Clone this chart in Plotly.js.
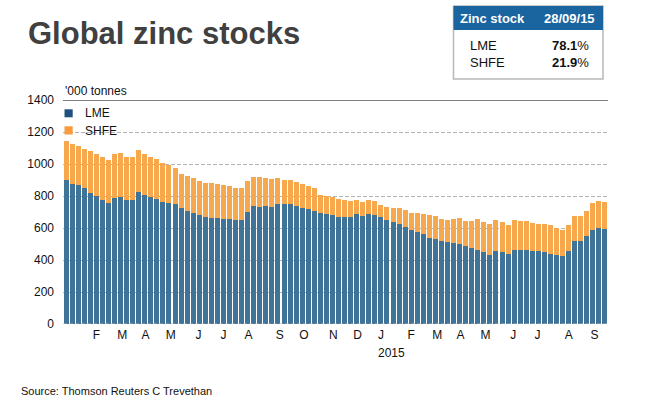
<!DOCTYPE html>
<html>
<head>
<meta charset="utf-8">
<script src="https://cdn.plot.ly/plotly-3.0.1.min.js"></script>
<style>
  html, body { margin: 0; padding: 0; background: #ffffff; }
  #chart { width: 648px; height: 408px; }
</style>
</head>
<body>
<div id="chart"></div>
<script>
// Weekly zinc stocks, '000 tonnes (Friday readings, Jan 2014 - Sep 2015)
const firstWeek = '2014-01-10';

const lme = [
  900, 875, 869, 850, 819, 800, 775, 756, 787, 794,
  775, 775, 825, 806, 794, 781, 762, 756, 750, 725,
  706, 694, 681, 669, 662, 662, 656, 656, 650, 650,
  700, 737, 731, 737, 731, 750, 750, 750, 737, 725,
  719, 706, 694, 687, 681, 669, 669, 669, 687, 675,
  687, 681, 669, 650, 637, 625, 606, 587, 575, 562,
  537, 531, 519, 512, 506, 500, 487, 475, 462, 450,
  431, 456, 450, 437, 462, 462, 462, 456, 456, 450,
  437, 431, 425, 456, 519, 519, 550, 587, 600, 595
];

const shfe = [
  244, 250, 243, 244, 262, 262, 269, 269, 275, 275,
  269, 269, 262, 256, 250, 250, 244, 238, 225, 212,
  219, 218, 213, 212, 219, 213, 213, 206, 200, 200,
  194, 182, 188, 175, 175, 162, 150, 150, 150, 150,
  143, 144, 112, 113, 113, 112, 106, 100,  88,  87,
   88,  88,  75,  81,  88, 100, 106, 107, 119, 125,
  144, 144, 137, 138, 150, 162, 157, 169, 194, 187,
  194, 194, 187, 182, 188, 182, 182, 175, 169, 175,
  182, 169, 162, 163, 156, 156, 156, 169, 169, 167
];

const seriesNames = ['LME', 'SHFE'];
const barColors = ['#3f7397', '#f8a84c'];
const keyColors = ['#1f5080', '#f79b3c'];

// Month initials along the time axis
const tickDates = [
  '2014-02-14', '2014-03-16', '2014-04-12', '2014-05-11', '2014-06-12',
  '2014-07-11', '2014-08-09', '2014-09-14', '2014-10-12', '2014-11-15',
  '2014-12-13', '2015-01-09', '2015-02-13', '2015-03-15', '2015-04-11',
  '2015-05-10', '2015-06-11', '2015-07-09', '2015-08-14', '2015-09-13'
];
const tickLetters = [
  'F', 'M', 'A', 'M', 'J', 'J', 'A', 'S', 'O', 'N',
  'D', 'J', 'F', 'M', 'A', 'M', 'J', 'J', 'A', 'S'
];
const yearLabel = '2015';
const yearDate = '2015-01-21';

const yTicks = [0, 200, 400, 600, 800, 1000, 1200, 1400];

const tableTitle = 'Zinc stock';
const tableDate = '28/09/15';

// Week dates for the x axis
const weeks = lme.map((_, i) => {
  const p = firstWeek.split('-').map(Number);
  return new Date(Date.UTC(p[0], p[1] - 1, p[2] + 7 * i)).toISOString().slice(0, 10);
});

// Share of the latest total held in each exchange
const lastTotal = lme[lme.length - 1] + shfe[shfe.length - 1];
const shares = [lme[lme.length - 1], shfe[shfe.length - 1]].map(v => (v / lastTotal * 100).toFixed(1));

const W = 648, H = 408;
const M = { l: 63, r: 40, t: 100, b: 84 };
const PW = W - M.l - M.r, PH = H - M.t - M.b;
const px = x => (x - M.l) / PW;          // page pixel -> paper x
const py = y => (H - M.b - y) / PH;      // page pixel -> paper y

const FONT = 'Liberation Sans, Arial, Helvetica, sans-serif';
const NARROW = 'Liberation Sans Narrow, Arial Narrow, Liberation Sans, Arial, sans-serif';

const traces = [
  { type: 'bar', x: weeks, y: lme, name: seriesNames[0],
    marker: { color: barColors[0], line: { width: 0 } }, hoverinfo: 'x+y+name' },
  { type: 'bar', x: weeks, y: shfe, name: seriesNames[1],
    marker: { color: barColors[1], line: { width: 0 } }, hoverinfo: 'x+y+name' }
];

const shapes = [
  // top rule
  { type: 'line', xref: 'paper', yref: 'y', x0: 0, x1: 1, y0: 1400, y1: 1400,
    line: { color: '#000000', width: 1 } },
  // dashed baseline across the bar feet
  { type: 'line', xref: 'paper', yref: 'y', x0: 0, x1: 1, y0: 0, y1: 0,
    line: { color: '#b3b3b3', width: 1, dash: '4px,2px' } },
  // key swatches
  { type: 'rect', xref: 'paper', yref: 'paper', x0: px(64.5), x1: px(72.7), y0: py(117.3), y1: py(109.3),
    fillcolor: keyColors[0], line: { width: 0 } },
  { type: 'rect', xref: 'paper', yref: 'paper', x0: px(64.5), x1: px(72.7), y0: py(134.5), y1: py(126.3),
    fillcolor: keyColors[1], line: { width: 0 } },
  // summary box
  { type: 'rect', xref: 'paper', yref: 'paper', x0: px(453.5), x1: px(603), y0: py(79), y1: py(6),
    fillcolor: '#ffffff', line: { color: '#b8b8b8', width: 1.5 } },
  { type: 'rect', xref: 'paper', yref: 'paper', x0: px(453.5), x1: px(603), y0: py(30), y1: py(6),
    fillcolor: '#1a64a0', line: { width: 0 } }
];

const ann = (text, x, y, xanchor, font, extra) => Object.assign({
  text, xref: 'paper', yref: 'paper', x: px(x), y: py(y),
  xanchor, yanchor: 'middle', showarrow: false, font
}, extra || {});

const annotations = [
  ann("'000 tonnes", 62.5, 90.5, 'left', { family: FONT, size: 12, color: '#111111' }),
  ann(seriesNames[0], 82.5, 113.5, 'left', { family: FONT, size: 12, color: '#111111' }),
  ann(seriesNames[1], 82.5, 130.5, 'left', { family: FONT, size: 12, color: '#111111' }),
  { text: yearLabel, xref: 'x', yref: 'paper', x: yearDate, y: py(352.5),
    xanchor: 'center', yanchor: 'middle', showarrow: false,
    font: { family: FONT, size: 12, color: '#111111' } },
  ann('Source: Thomson Reuters C Trevethan', 19, 391, 'left', { family: NARROW, size: 11, color: '#111111' }),
  ann(tableTitle, 457.5, 18.5, 'left', { family: FONT, size: 13, color: '#ffffff', weight: 'bold' }),
  ann(tableDate, 596.5, 18.5, 'right', { family: FONT, size: 13, color: '#ffffff', weight: 'bold' }),
  ann(seriesNames[0], 467.5, 45, 'left', { family: FONT, size: 13, color: '#111111' }),
  ann(seriesNames[1], 467.5, 62.5, 'left', { family: FONT, size: 13, color: '#111111' }),
  ann('<b>' + shares[0] + '</b>%', 590.5, 45, 'right', { family: FONT, size: 13, color: '#111111' }),
  ann('<b>' + shares[1] + '</b>%', 590.5, 62.5, 'right', { family: FONT, size: 13, color: '#111111' })
];

const layout = {
  width: W, height: H,
  margin: M,
  paper_bgcolor: '#ffffff',
  plot_bgcolor: '#ffffff',
  barmode: 'stack',
  bargap: 0.18,
  showlegend: false,
  font: { family: FONT, size: 12, color: '#111111' },
  title: {
    text: 'Global zinc stocks',
    font: { family: FONT, size: 31, color: '#404040', weight: 'bold' },
    xref: 'container', yref: 'container',
    x: 28 / W, xanchor: 'left',
    y: 1 - 33 / H, yanchor: 'middle'
  },
  xaxis: {
    type: 'date',
    range: ['2014-01-06 12:00', '2015-09-28 12:00'],
    tickmode: 'array',
    tickvals: tickDates,
    ticktext: tickLetters,
    ticks: '',
    showgrid: false,
    zeroline: false,
    showline: false,
    tickfont: { family: FONT, size: 12, color: '#111111' },
    ticklabelstandoff: 2,
    fixedrange: true
  },
  yaxis: {
    range: [0, 1400],
    tickmode: 'array',
    tickvals: yTicks,
    ticks: '',
    showgrid: true,
    gridcolor: '#b3b3b3',
    gridwidth: 1,
    griddash: '4px,2px',
    zeroline: false,
    showline: false,
    tickfont: { family: FONT, size: 12, color: '#111111' },
    ticklabelstandoff: 8,
    fixedrange: true
  },
  shapes,
  annotations
};

Plotly.newPlot('chart', traces, layout, { displayModeBar: false, staticPlot: true });
</script>
</body>
</html>
